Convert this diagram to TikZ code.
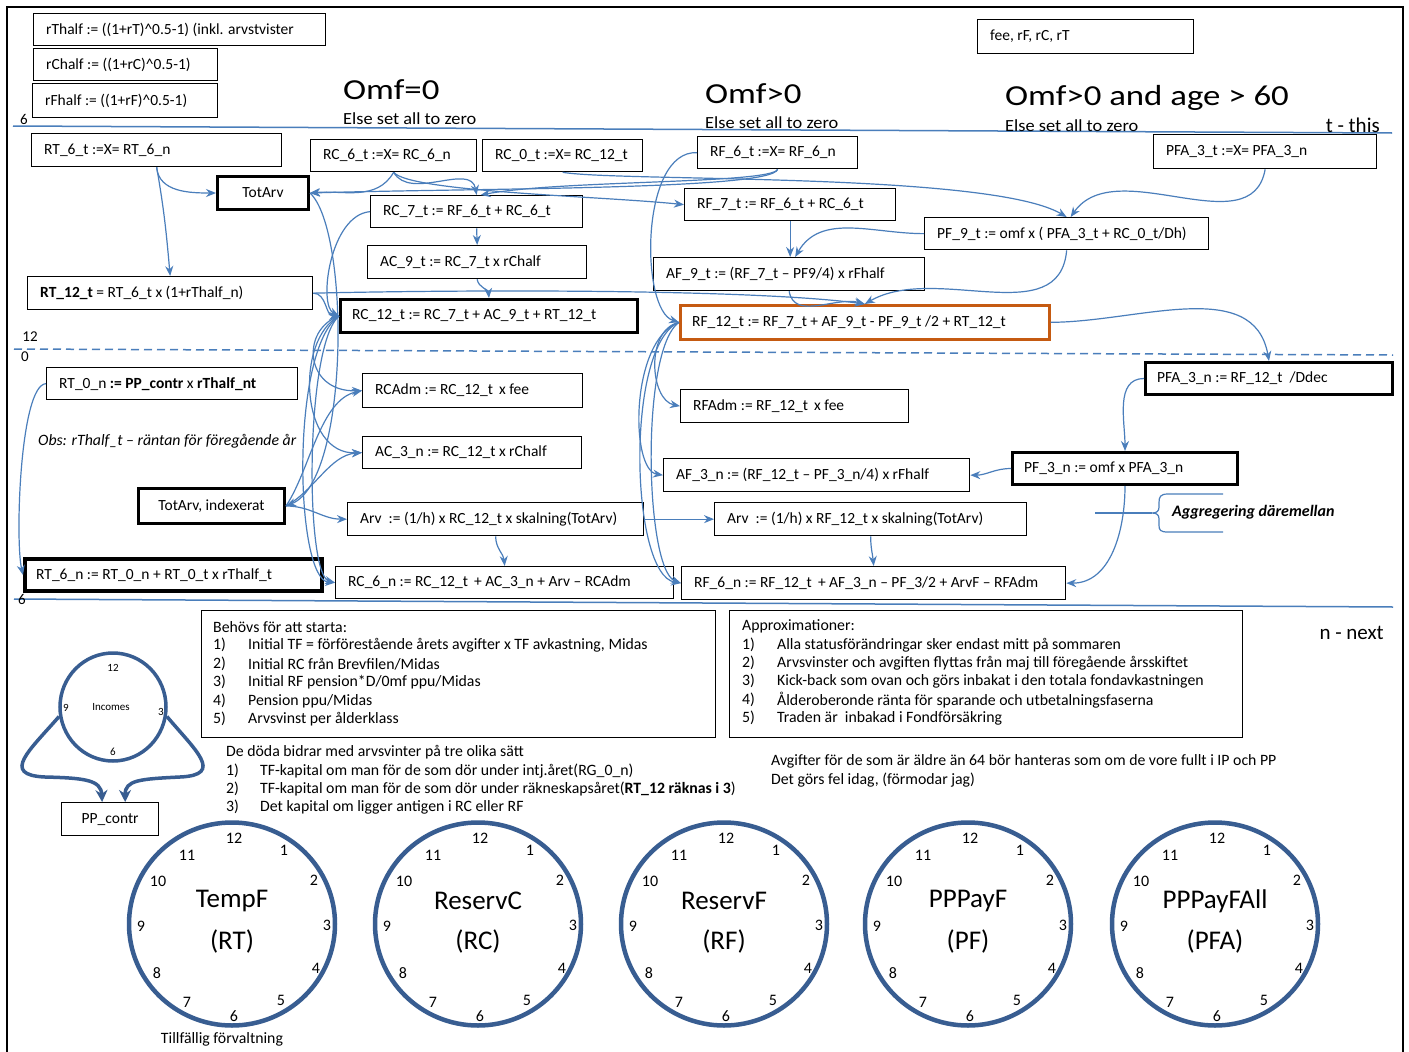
\documentclass[tikz,border=0pt]{standalone}
\usepackage{fontspec}
\setmainfont{Carlito}
\newfontfamily\titlefam[FakeStretch=1.2]{Carlito}
\newfontfamily\elsefam[FakeStretch=1.08]{Carlito}
\usetikzlibrary{arrows.meta,shapes.geometric}
\definecolor{lb}{RGB}{74,126,187}
\definecolor{cb}{RGB}{56,93,145}
\definecolor{brn}{RGB}{197,90,17}
\newcommand\myfs{\fontsize{15.5}{18}\selectfont}
\newcommand\mylfs{\fontsize{15.8}{18}\selectfont}
\newcommand\Bx[7]{%
 \node[#2, anchor=north west, minimum width={#5-#3}, minimum height={#6-#4}] (#1) at (#3,#4) {};
 \node[tx, anchor=west] (#1-t) at ([xshift=13pt]#1.west) {#7};}
\newcommand\Cx[7]{%
 \node[#2, anchor=north west, minimum width={#5-#3}, minimum height={#6-#4}] (#1) at (#3,#4) {};
 \node[tx] (#1-t) at (#1.center) {#7};}
\newcommand\Clk[5]{%
 \node[clk] (#1) at (#2,#3) {};
 \foreach \n/\dx/\dy in {12/2/-86,1/52/-74,2/82/-44,3/95/1,4/84/44,5/49/76,6/2/92,7/-45/78,8/-75/49,9/-91/2,10/-74/-43,11/-45/-69}
   {\node[cnum] (#1-\n) at ({#2+\dx},{#3+\dy}) {\n};}
 \node[cname] (#1-t) at (#2,#3-23) {#4};
 \node[cname] (#1-a) at (#2,#3+17) {#5};}
\tikzset{
 bx/.style={draw=black, line width=1.3pt, inner sep=0pt, rectangle},
 bbx/.style={draw=black, line width=3pt, inner sep=0pt, rectangle},
 vbbx/.style={draw=black, line width=4pt, inner sep=0pt, rectangle},
 obx/.style={draw=brn, line width=2.6pt, inner sep=0pt, rectangle},
 tx/.style={inner sep=0pt, font=\myfs},
 ltx/.style={inner sep=0pt, font=\mylfs, anchor=west},
 ar/.style={draw=lb, line width=1.2pt, -{Stealth[length=10pt,width=8pt]}},
 hl/.style={draw=lb, line width=1.5pt},
 clk/.style={draw=cb, line width=4.5pt, ellipse, minimum width=206pt, minimum height=203pt, inner sep=0pt},
 cnum/.style={inner sep=0pt, font=\fontsize{16}{18}\selectfont},
 cname/.style={inner sep=0pt, font=\fontsize{27}{30}\selectfont},
 inum/.style={inner sep=0pt, font=\fontsize{11}{13}\selectfont},
 inarr/.style={draw=cb, line width=3.5pt, -{Stealth[length=12pt,width=12pt]}},
 lbl/.style={inner sep=0pt, font=\fontsize{15}{17}\selectfont},
}
\begin{document}
\begin{tikzpicture}[x=1pt,y=-1pt]
\fill[white] (0,0) rectangle (1409,1052);
\useasboundingbox (0,0) rectangle (1409,1052);
\draw[line width=2pt] (7,1052) -- (7,7) -- (1403,7) -- (1403,1052);
% separator lines
\draw[hl] (13,126) -- (1392,133);
\draw[hl, dash pattern=on 8pt off 5pt] (14,349) -- (1393,355);
\draw[hl] (14,599) -- (1393,607);
\node[lbl] (l6a) at (24,119) {6};
\node[lbl] (l12) at (30,337) {12};
\node[lbl] (l0) at (25,357) {0};
\node[lbl] (l6b) at (22,599) {6};
\node[inner sep=0pt, anchor=base east, font=\fontsize{21}{24}\selectfont] (tthis) at (1380,132) {t - this};
\node[inner sep=0pt, anchor=base east, font=\fontsize{21}{24}\selectfont] (nnext) at (1384,639) {n - next};
% titles
\node[inner sep=0pt, anchor=base west, font=\titlefam\fontsize{29}{32}\selectfont] (t0) at (343,99) {Omf=0};
\node[inner sep=0pt, anchor=base west, font=\elsefam\fontsize{17}{19}\selectfont] (e0) at (343,124) {Else set all to zero};
\node[inner sep=0pt, anchor=base west, font=\titlefam\fontsize{29}{32}\selectfont] (t1) at (705,103) {Omf>0};
\node[inner sep=0pt, anchor=base west, font=\elsefam\fontsize{17}{19}\selectfont] (e1) at (705,128) {Else set all to zero};
\node[inner sep=0pt, anchor=base west, font=\titlefam\fontsize{29}{32}\selectfont] (t2) at (1005,105) {Omf>0 and age > 60};
\node[inner sep=0pt, anchor=base west, font=\elsefam\fontsize{17}{19}\selectfont] (e2) at (1005,131) {Else set all to zero};
% boxes
\Bx{rth}{bx}{33}{13}{325}{45}{rThalf := ((1+rT)\textasciicircum 0.5-1) (inkl. arvstvister}
\Bx{rch}{bx}{33}{48}{217}{80}{rChalf := ((1+rC)\textasciicircum 0.5-1)}
\Bx{rfh}{bx}{32}{83}{217}{117}{rFhalf := ((1+rF)\textasciicircum 0.5-1)}
\Bx{fee}{bx}{977}{19}{1193}{53}{fee, rF, rC, rT}
\Bx{rt6t}{bx}{31}{133}{281}{166}{RT\_6\_t :=X= RT\_6\_n}
\Bx{rc6t}{bx}{310}{139}{476}{171}{RC\_6\_t :=X= RC\_6\_n}
\Bx{rc0t}{bx}{482}{139}{642}{171}{RC\_0\_t :=X= RC\_12\_t}
\Bx{rf6t}{bx}{697}{136}{857}{168}{RF\_6\_t :=X= RF\_6\_n}
\Bx{pfa3t}{bx}{1153}{134}{1376}{168}{PFA\_3\_t :=X= PFA\_3\_n}
\Cx{totarv}{bbx}{216}{175}{307}{208}{TotArv}
\Bx{rc7t}{bx}{370}{195}{582}{227}{RC\_7\_t := RF\_6\_t + RC\_6\_t}
\Bx{rf7t}{bx}{684}{188}{895}{220}{RF\_7\_t := RF\_6\_t + RC\_6\_t}
\Bx{pf9t}{bx}{924}{217}{1208}{249}{PF\_9\_t := omf x ( PFA\_3\_t + RC\_0\_t/Dh)}
\Bx{ac9t}{bx}{367}{245}{586}{278}{AC\_9\_t := RC\_7\_t x rChalf}
\Bx{af9t}{bx}{653}{257}{924}{290}{AF\_9\_t := (RF\_7\_t – PF9/4) x rFhalf}
\Bx{rt12t}{bx}{27}{276}{312}{309}{\textbf{RT\_12\_t} = RT\_6\_t x (1+rThalf\_n)}
\Bx{rc12t}{bbx}{339}{298}{636}{331}{RC\_12\_t := RC\_7\_t + AC\_9\_t + RT\_12\_t}
\Bx{rf12t}{obx}{679}{304}{1048}{338}{RF\_12\_t := RF\_7\_t + AF\_9\_t - PF\_9\_t /2 + RT\_12\_t}
\Bx{rt0n}{bx}{46}{367}{297}{399}{RT\_0\_n \textbf{:= PP\_contr} x \textbf{rThalf\_nt}}
\Cx{totind}{bbx}{137}{487}{283}{522}{TotArv, indexerat}
\Bx{rt6n}{vbbx}{23}{557}{320}{589}{RT\_6\_n := RT\_0\_n + RT\_0\_t x rThalf\_t}
\Bx{rcadm}{bx}{362}{373}{582}{407}{RCAdm := RC\_12\_t\, x fee}
\Bx{ac3n}{bx}{362}{436}{581}{468}{AC\_3\_n := RC\_12\_t x rChalf}
\Bx{arvc}{bx}{347}{502}{643}{535}{Arv\ \ := (1/h) x RC\_12\_t x skalning(TotArv)}
\Bx{rc6n}{bx}{335}{566}{673}{598}{RC\_6\_n := RC\_12\_t\, + AC\_3\_n + Arv – RCAdm}
\Bx{rfadm}{bx}{680}{389}{908}{422}{RFAdm := RF\_12\_t\, x fee}
\Bx{af3n}{bx}{663}{458}{969}{491}{AF\_3\_n := (RF\_12\_t – PF\_3\_n/4) x rFhalf}
\Bx{arvf}{bx}{714}{502}{1026}{535}{Arv\ \ := (1/h) x RF\_12\_t x skalning(TotArv)}
\Bx{rf6n}{bx}{681}{566}{1065}{599}{RF\_6\_n := RF\_12\_t\, + AF\_3\_n – PF\_3/2 + ArvF – RFAdm}
\Bx{pfa3n}{bbx}{1144}{361}{1391}{393}{PFA\_3\_n := RF\_12\_t\ \ /Ddec}
\Bx{pf3n}{bbx}{1011}{451}{1236}{483}{PF\_3\_n := omf x PFA\_3\_n}
\Cx{ppc}{bx}{61}{802}{158}{835}{PP\_contr}
% notes
\node[ltx, font=\mylfs\itshape] (obs) at (38,441) {Obs: rThalf\_t – räntan för föregående år};
\node[ltx, font=\fontsize{16}{18}\selectfont\bfseries\itshape] (aggr) at (1172,512) {Aggregering däremellan};
\draw[lb, line width=1.2pt] (1223,494) -- (1168,494) .. controls (1160,494) and (1159,497) .. (1159,503) -- (1159,507) .. controls (1159,511) and (1157,513) .. (1152,513) .. controls (1157,513) and (1159,515) .. (1159,519) -- (1159,525) .. controls (1159,530) and (1160,532) .. (1168,532) -- (1223,532);
\draw[lb, line width=1.2pt] (1095,513) -- (1152,513);
% connectors
\draw[ar] (rt6t.south) to[out=-85,in=180] (totarv.west);
\draw[ar] (rt6t.south) to[out=-80,in=95] (rt12t.north);
\draw[ar] (rc6t.south) to[out=-120,in=5] (totarv.east);
\draw[ar] (rc6t.south) to[out=-60,in=100] (rc7t.north);
\draw[ar] (rc6t.south) .. controls (410,192) and (600,196) .. (rf7t.west);
\draw[ar] (rf6t.south) .. controls (772,184) and (560,180) .. ([xshift=4pt]rc7t.north);
\draw[ar] (rf6t.south) .. controls (772,190) and (480,188) .. (totarv.east);
\draw[ar] (rf6t.west) .. controls (640,150) and (640,310) .. (rf12t.west);
\draw[ar] (rc0t.south) .. controls (620,182) and (990,172) .. (pf9t.north);
\draw[ar] (pfa3t.south) to[out=-100,in=55] ([xshift=4pt]pf9t.north);
\draw[ar] (rc7t.south) -- (ac9t.north);
\draw[ar] (rf7t.south) -- ([xshift=1pt]af9t.north);
\draw[ar] (pf9t.west) to[out=180,in=60] ([xshift=6pt]af9t.north);
\draw[ar] (pf9t.south) to[out=-95,in=30] (rf12t.north);
\draw[ar] (af9t.south) to[out=-80,in=165] (rf12t.north);
\draw[ar] (ac9t.south) to[out=-80,in=95] (rc12t.north);
\draw[ar] (rt12t.east) to[out=0,in=180] (rc12t.west);
\draw[ar] (rt12t.east) .. controls (500,289) and (760,290) .. (rf12t.north);
\draw[ar] (rc7t.west) .. controls (330,215) and (318,305) .. (rc12t.west);
\draw[ar] (totarv.east) .. controls (350,230) and (350,480) .. (totind.east);
\draw[ar] (rc12t.west) .. controls (300,330) and (305,392) .. (rcadm.west);
\draw[ar] (rc12t.west) .. controls (295,340) and (300,455) .. (ac3n.west);
\draw[ar] (rc12t.west) .. controls (290,350) and (295,580) .. (rc6n.west);
\draw[ar] (rc12t.west) .. controls (305,345) and (305,575) .. (rc6n.west);
\draw[ar] (totind.east) .. controls (310,470) and (320,400) .. (rcadm.west);
\draw[ar] (totind.east) .. controls (315,490) and (330,455) .. (ac3n.west);
\draw[ar] (totind.east) to[out=0,in=180] (arvc.west);
\draw[ar] (arvc.east) -- (arvf.west);
\draw[ar] (arvc.south) to[out=-90,in=95] (rc6n.north);
\draw[ar] (arvf.south) to[out=-90,in=95] (rf6n.north);
\draw[ar] (rf12t.west) .. controls (645,330) and (650,400) .. (rfadm.west);
\draw[ar] (rf12t.west) .. controls (630,340) and (630,470) .. (af3n.west);
\draw[ar] (rf12t.west) .. controls (625,345) and (630,575) .. (rf6n.west);
\draw[ar] (rf12t.west) .. controls (640,350) and (645,570) .. (rf6n.west);
\draw[ar] (rf12t.east) to[out=0,in=100] (pfa3n.north);
\draw[ar] (pfa3n.west) to[out=180,in=90] (pf3n.north);
\draw[ar] (pf3n.west) to[out=180,in=0] (af3n.east);
\draw[ar] (pf3n.south) to[out=-90,in=0] (rf6n.east);
\draw[ar] (rt0n.west) .. controls (20,385) and (15,540) .. (rt6n.west);
% text boxes
\node[bx, anchor=north west, minimum width=514pt, minimum height=127pt] (behovs) at (201,610) {};
\node[ltx] (b0) at (213,627) {Behövs för att starta:};
\foreach \i/\yy/\ltext in {1/645/{Initial TF = förförestående årets avgifter x TF avkastning, Midas},2/664/{Initial RC från Brevfilen/Midas},3/682/{Initial RF pension*D/0mf ppu/Midas},4/701/{Pension ppu/Midas},5/719/{Arvsvinst per ålderklass}}
 {\node[ltx] (bn\i) at (213,\yy) {\i)}; \node[ltx] (bt\i) at (248,\yy) {\ltext};}
\node[bx, anchor=north west, minimum width=513pt, minimum height=127pt] (approx) at (729,610) {};
\node[ltx] (a0) at (742,626) {Approximationer:};
\foreach \i/\yy/\ltext in {1/645/{Alla statusförändringar sker endast mitt på sommaren},2/663/{Arvsvinster och avgiften flyttas från maj till föregående årsskiftet},3/681/{Kick-back som ovan och görs inbakat i den totala fondavkastningen},4/700/{Ålderoberonde ränta för sparande och utbetalningsfaserna},5/718/{Traden är\ \ inbakad i Fondförsäkring}}
 {\node[ltx] (an\i) at (742,\yy) {\i)}; \node[ltx] (at\i) at (777,\yy) {\ltext};}
\node[ltx] (d0) at (226,752) {De döda bidrar med arvsvinter på tre olika sätt};
\foreach \i/\yy/\ltext in {1/771/{TF-kapital om man för de som dör under intj.året(RG\_0\_n)},2/789/{TF-kapital om man för de som dör under räkneskapsåret(\textbf{RT\_12 räknas i 3})},3/807/{Det kapital om ligger antigen i RC eller RF}}
 {\node[ltx] (dn\i) at (226,\yy) {\i)}; \node[ltx] (dt\i) at (260,\yy) {\ltext};}
\node[ltx] (av1) at (771,761) {Avgifter för de som är äldre än 64 bör hanteras som om de vore fullt i IP och PP};
\node[ltx] (av2) at (771,780) {Det görs fel idag, (förmodar jag)};
% incomes clock
\node[draw=cb, line width=3.5pt, ellipse, minimum width=106pt, minimum height=108pt, inner sep=0pt] (inc) at (113,707) {};
\node[inum] (inc-12) at (113,668) {12};
\node[inum] (inc-3) at (161,712) {3};
\node[inum] (inc-6) at (113,752) {6};
\node[inum] (inc-9) at (66,708) {9};
\node[inum] (inc-t) at (111,707) {Incomes};
\draw[inarr] (inc.190) .. controls (30,750) and (0,775) .. (45,777) .. controls (85,778) and (101,780) .. ([xshift=-8pt]ppc.north);
\draw[inarr] (inc.-10) .. controls (195,750) and (225,775) .. (180,777) .. controls (140,779) and (125,780) .. ([xshift=15pt]ppc.north);
% big clocks
\Clk{ck1}{232}{924}{TempF}{(RT)}
\Clk{ck2}{478}{924}{ReservC}{(RC)}
\Clk{ck3}{724}{924}{ReservF}{(RF)}
\Clk{ck4}{968}{924}{PPPayF}{(PF)}
\Clk{ck5}{1215}{924}{PPPayFAll}{(PFA)}
\node[ltx, anchor=center] (tillf) at (222,1039) {Tillfällig förvaltning};
\end{tikzpicture}
\end{document}
